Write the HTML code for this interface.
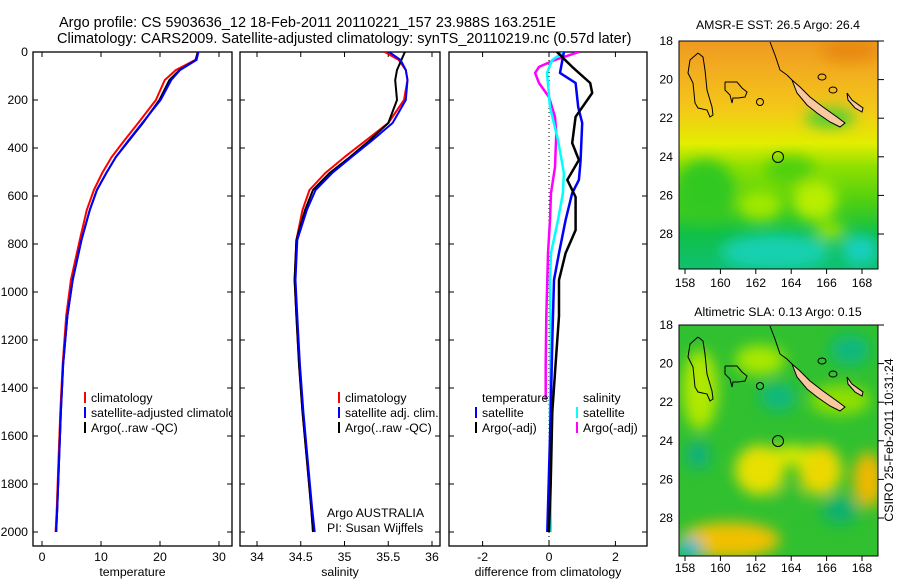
<!DOCTYPE html>
<html><head><meta charset="utf-8"><style>
html,body{margin:0;padding:0;background:#fff;}
svg{display:block;font-family:"Liberation Sans",sans-serif;}
text{font-size:12.3px;fill:#000;}
.ttl{font-size:14.5px;}
</style></head><body>
<svg id="fig" width="900" height="580" viewBox="0 0 900 580" xmlns="http://www.w3.org/2000/svg">
<defs>
<clipPath id="c1"><rect x="33" y="52" width="199" height="494"/></clipPath>
<clipPath id="c2"><rect x="240" y="52" width="200" height="494"/></clipPath>
<clipPath id="c3"><rect x="449" y="52" width="198" height="494"/></clipPath>
<clipPath id="m1"><rect x="679" y="41" width="199" height="228"/></clipPath>
<clipPath id="m2"><rect x="679" y="325" width="199" height="231"/></clipPath>
<filter id="bl" x="-50%" y="-50%" width="200%" height="200%"><feGaussianBlur stdDeviation="7"/></filter>
<linearGradient id="sstg" x1="0" y1="0" x2="0" y2="1">
<stop offset="0" stop-color="#ee9a20"/><stop offset="0.12" stop-color="#f2ac20"/><stop offset="0.3" stop-color="#f4c818"/>
<stop offset="0.45" stop-color="#e2ee00"/><stop offset="0.55" stop-color="#90e000"/><stop offset="0.7" stop-color="#50d010"/>
<stop offset="0.85" stop-color="#10c048"/><stop offset="1" stop-color="#10c070"/></linearGradient>
</defs>
<text class="ttl" x="59" y="27">Argo profile: CS 5903636_12 18-Feb-2011 20110221_157 23.988S 163.251E</text>
<text class="ttl" x="57" y="43">Climatology: CARS2009. Satellite-adjusted climatology: synTS_20110219.nc (0.57d later)</text>
<g id="panels"></g>

<g>
<text x="778" y="29" text-anchor="middle">AMSR-E SST: 26.5 Argo: 26.4</text>
<g clip-path="url(#m1)">
<rect x="679" y="41" width="199" height="228" fill="url(#sstg)"/>
<g filter="url(#bl)">
<ellipse cx="850" cy="50" rx="30" ry="12" fill="#e88a10"/>
<ellipse cx="705" cy="190" rx="30" ry="30" fill="#30c820"/>
<ellipse cx="790" cy="170" rx="25" ry="14" fill="#50d010"/>
<ellipse cx="815" cy="200" rx="22" ry="20" fill="#b8ee00"/>
<ellipse cx="760" cy="205" rx="22" ry="15" fill="#a0e800"/>
<ellipse cx="775" cy="252" rx="55" ry="18" fill="#18d0b0"/>
<ellipse cx="860" cy="250" rx="18" ry="15" fill="#18d0c0"/>
<ellipse cx="830" cy="230" rx="15" ry="10" fill="#90e000"/>
<ellipse cx="830" cy="118" rx="25" ry="10" fill="#50d030"/>
</g>
</g>
<rect x="679" y="41" width="199" height="228" fill="none" stroke="#000"/>
</g>

<g>
<text x="778" y="316" text-anchor="middle">Altimetric SLA: 0.13 Argo: 0.15</text>
<g clip-path="url(#m2)">
<rect x="679" y="325" width="199" height="231" fill="#30c030"/>
<g filter="url(#bl)">
<ellipse cx="700" cy="390" rx="18" ry="40" fill="#b0e800"/>
<ellipse cx="760" cy="360" rx="25" ry="15" fill="#a8e800"/>
<ellipse cx="840" cy="400" rx="30" ry="15" fill="#90e000"/>
<ellipse cx="760" cy="470" rx="25" ry="25" fill="#e8e000"/>
<ellipse cx="820" cy="470" rx="22" ry="25" fill="#ecd800"/>
<ellipse cx="792" cy="455" rx="20" ry="10" fill="#d8e800"/>
<ellipse cx="790" cy="500" rx="14" ry="14" fill="#30c030"/>
<ellipse cx="868" cy="480" rx="15" ry="28" fill="#f0b800"/>
<ellipse cx="730" cy="540" rx="50" ry="18" fill="#f0c000"/>
<ellipse cx="690" cy="548" rx="12" ry="10" fill="#20b8d0"/>
<ellipse cx="778" cy="397" rx="18" ry="14" fill="#10b880"/>
<ellipse cx="698" cy="455" rx="12" ry="14" fill="#10b080"/>
<ellipse cx="840" cy="510" rx="18" ry="14" fill="#10b070"/>
<ellipse cx="850" cy="350" rx="20" ry="15" fill="#10b880"/>
</g>
</g>
<rect x="679" y="325" width="199" height="231" fill="none" stroke="#000"/>
</g>

<g id="coast1" fill="none" stroke="#000" stroke-width="1">
<polyline points="698,53 703,57 705,70 707,90 712,107 713,115 710,117 707,110 698,108 695,103 693,83 688,73 690,60 698,53"/>
<polyline points="725,82 737,82 742,88 747,92 745,97 738,98 733,98 732,103 730,95 725,90 725,82"/>
<circle cx="760" cy="102" r="3.5"/>
<polyline points="770,42 775,55 780,70 787,75 792,80"/>
<ellipse cx="822" cy="77" rx="4" ry="3"/>
<ellipse cx="833" cy="90" rx="4" ry="3"/>
<polygon points="847,93 852,100 863,108 862,112 855,108 848,100" fill="#f8c8a0"/>
<polygon points="792,80 800,87 810,97 823,107 837,117 845,123 840,127 830,122 817,113 807,105 797,93" fill="#f8c8a0"/>
<circle cx="778" cy="157" r="5.5"/>
</g>
<g transform="translate(0,284)" fill="none" stroke="#000" stroke-width="1">
<polyline points="698,53 703,57 705,70 707,90 712,107 713,115 710,117 707,110 698,108 695,103 693,83 688,73 690,60 698,53"/>
<polyline points="725,82 737,82 742,88 747,92 745,97 738,98 733,98 732,103 730,95 725,90 725,82"/>
<circle cx="760" cy="102" r="3.5"/>
<polyline points="770,42 775,55 780,70 787,75 792,80"/>
<ellipse cx="822" cy="77" rx="4" ry="3"/>
<ellipse cx="833" cy="90" rx="4" ry="3"/>
<polygon points="847,93 852,100 863,108 862,112 855,108 848,100" fill="#f8c8a0"/>
<polygon points="792,80 800,87 810,97 823,107 837,117 845,123 840,127 830,122 817,113 807,105 797,93" fill="#f8c8a0"/>
<circle cx="778" cy="157" r="5.5"/>
</g>
<g id="mapaxes"></g>
<text transform="translate(893,440) rotate(-90)" text-anchor="middle">CSIRO 25-Feb-2011 10:31:24</text>
</svg>
<script>
const depthTicks = [0,200,400,600,800,1000,1200,1400,1600,1800,2000];
const tempTicks = [0,10,20,30];
const salTicks = [34,34.5,35,35.5,36];
const diffTicks = [-2,0,2];
const diffTickLabels = ['-2','0','2'];
const profDepth = [0,33,75,117,200,296,367,438,504,575,658,783,950,1100,1300,1500,1700,1900,2000];
const tempArgo = [26.4,26.1,23.3,21.6,19.9,17.1,14.8,12.5,10.9,9.3,8.1,6.7,5.2,4.3,3.6,3.2,2.9,2.6,2.4];
const tempClim = [26.4,26.0,22.7,20.8,19.3,16.3,14.0,11.8,10.2,8.8,7.6,6.4,4.9,4.1,3.5,3.1,2.8,2.5,2.3];
const tempSat = [26.5,26.2,23.4,21.9,20.1,17.0,14.7,12.5,10.9,9.3,8.1,6.7,5.2,4.3,3.6,3.2,2.9,2.6,2.4];
const salArgo = [35.69,35.65,35.6,35.58,35.6,35.5,35.29,35.06,34.83,34.64,34.55,34.45,34.43,34.45,34.48,34.52,34.57,34.62,34.64];
const salClim = [35.46,35.62,35.7,35.72,35.68,35.5,35.25,35.0,34.78,34.6,34.52,34.45,34.43,34.45,34.48,34.52,34.57,34.62,34.64];
const salSat = [35.51,35.64,35.7,35.72,35.7,35.55,35.32,35.08,34.86,34.67,34.57,34.46,34.44,34.46,34.49,34.53,34.58,34.63,34.66];
const dTempArgoDepth = [0,62,129,171,270,379,450,533,604,742,838,950,1100,1300,1500,1800,2000];
const dTempArgo = [0.24,0.7,1.24,1.3,0.8,0.7,0.9,0.55,0.8,0.8,0.5,0.3,0.3,0.2,0.1,0.05,0];
const dTempSatDepth = [0,87,129,229,296,458,533,588,700,838,950,1200,1500,2000];
const dTempSat = [0.45,0.33,0.8,0.88,1.0,0.95,0.9,0.7,0.5,0.3,0.15,0.1,0.05,-0.05];
const dSalArgoDepth = [0,33,62,87,129,188,271,338,479,588,700,838,950,1100,1300,1450];
const dSalArgo = [0.9,0.18,-0.3,-0.42,-0.3,0.0,0.18,0.22,0.18,0.06,0.03,-0.03,-0.05,-0.08,-0.1,-0.1];
const dSalSatDepth = [0,33,87,229,367,504,588,700,838,950,1200,1500,2000];
const dSalSat = [0.45,0.1,-0.06,0.03,0.27,0.45,0.42,0.27,0.06,0.03,0.05,0.03,0.05];
const latTicks = [18,20,22,24,26,28];
const lonTicks = [158,160,162,164,166,168];

const NS='http://www.w3.org/2000/svg';
const root=document.getElementById('panels');
function mk(tag,attrs,parent){const e=document.createElementNS(NS,tag);for(const k in attrs)e.setAttribute(k,attrs[k]);(parent||root).appendChild(e);return e;}
function yD(d){return 52+d*0.24;}
const panels=[
 {x0:33,x1:232,sx:v=>42+v*5.9,ticks:tempTicks,labels:tempTicks.map(String),clip:'c1',xlabel:'temperature',name:'temperature-panel'},
 {x0:240,x1:440,sx:v=>257+(v-34)*87.5,ticks:salTicks,labels:salTicks.map(String),clip:'c2',xlabel:'salinity',name:'salinity-panel'},
 {x0:449,x1:647,sx:v=>549+v*33.2,ticks:diffTicks,labels:diffTickLabels,clip:'c3',xlabel:'difference from climatology',name:'difference-panel'}
];
panels.forEach((p,i)=>{
 const g=mk('g',{});
 
 
 mk('rect',{x:p.x0,y:52,width:p.x1-p.x0,height:494,fill:'none',stroke:'#000','stroke-width':1.3},g);
 p.ticks.forEach((t,j)=>{
  const x=p.sx(t);
  mk('line',{x1:x,x2:x,y1:546,y2:541,stroke:'#000'},g);
  mk('line',{x1:x,x2:x,y1:52,y2:57,stroke:'#000'},g);
  const tx=mk('text',{x:x,y:561,'text-anchor':'middle'},g);
  tx.textContent=p.labels[j];
  
  
 });
 depthTicks.forEach(d=>{
  const y=yD(d);
  mk('line',{x1:p.x0,x2:p.x0+5,y1:y,y2:y,stroke:'#000'},g);
  mk('line',{x1:p.x1,x2:p.x1-5,y1:y,y2:y,stroke:'#000'},g);
  if(i===0){const t=mk('text',{x:28,y:y+4,'text-anchor':'end'},g);t.textContent=String(d);
   
   }
 });
 const xl=mk('text',{x:(p.x0+p.x1)/2,y:576,'text-anchor':'middle'},g);
 xl.textContent=p.xlabel;
 
 
 p.g=mk('g',{'clip-path':'url(#'+p.clip+')'},g);
});
function line(p,depths,vals,color,w,name){
 const pts=depths.map((d,k)=>p.sx(vals[k]).toFixed(1)+','+yD(d).toFixed(1)).join(' ');
 const l=mk('polyline',{points:pts,fill:'none',stroke:color,'stroke-width':w,'stroke-linejoin':'round'},p.g);
 
 
}
line(panels[0],profDepth,tempClim,'#f00',2,'temp-climatology-line');
line(panels[0],profDepth,tempArgo,'#000',2,'temp-argo-line');
line(panels[0],profDepth,tempSat,'#00f',2,'temp-satellite-line');
line(panels[1],profDepth,salClim,'#f00',2,'sal-climatology-line');
line(panels[1],profDepth,salArgo,'#000',2,'sal-argo-line');
line(panels[1],profDepth,salSat,'#00f',2,'sal-satellite-line');
const zl=mk('line',{x1:549,x2:549,y1:52,y2:546,stroke:'#000','stroke-dasharray':'1,3'},panels[2].g);


line(panels[2],dSalArgoDepth,dSalArgo,'#f0f',2.5,'diff-sal-argo-line');
line(panels[2],dSalSatDepth,dSalSat,'#0ff',2.5,'diff-sal-satellite-line');
line(panels[2],dTempSatDepth,dTempSat,'#00f',2.5,'diff-temp-satellite-line');
line(panels[2],dTempArgoDepth,dTempArgo,'#000',2.5,'diff-temp-argo-line');

function legend(p,x,y,color,label){
 const g=mk('g',{'clip-path':'url(#'+p.clip+')'},p.g.parentNode);
 
 
 if(color) mk('rect',{x:x,y:y-6,width:2,height:11,fill:color},g);
 const t=mk('text',{x:x+7,y:y+4},g); t.textContent=label;
}
legend(panels[0],84,398,'#f00','climatology');
legend(panels[0],84,413,'#00f','satellite-adjusted climatology');
legend(panels[0],84,428,'#000','Argo(..raw -QC)');
legend(panels[1],338,398,'#f00','climatology');
legend(panels[1],338,413,'#00f','satellite adj. clim.');
legend(panels[1],338,428,'#000','Argo(..raw -QC)');
legend(panels[2],475,398,null,'temperature');
legend(panels[2],475,413,'#00f','satellite');
legend(panels[2],475,428,'#000','Argo(-adj)');
legend(panels[2],576,398,null,'salinity');
legend(panels[2],576,413,'#0ff','satellite');
legend(panels[2],576,428,'#f0f','Argo(-adj)');
const a1=mk('text',{x:327,y:517});a1.textContent='Argo AUSTRALIA';


const a2=mk('text',{x:327,y:532});a2.textContent='PI: Susan Wijffels';



const ma=document.getElementById('mapaxes');
[{y18:41,bot:269,lab:287},{y18:325,bot:556,lab:572}].forEach(m=>{
 latTicks.forEach(l=>{
  const y=m.y18+(l-18)*19.3;
  const t=mk('text',{x:673,y:y+4,'text-anchor':'end'},ma);t.textContent=String(l);
  
  
  mk('line',{x1:878,x2:884,y1:y,y2:y,stroke:'#000'},ma);
 });
 lonTicks.forEach(l=>{
  const x=685+(l-158)*17.7;
  mk('line',{x1:x,x2:x,y1:m.bot,y2:m.bot+5,stroke:'#000'},ma);
  const t=mk('text',{x:x,y:m.lab,'text-anchor':'middle'},ma);t.textContent=String(l);
  
  
 });
});
</script>
</body></html>
